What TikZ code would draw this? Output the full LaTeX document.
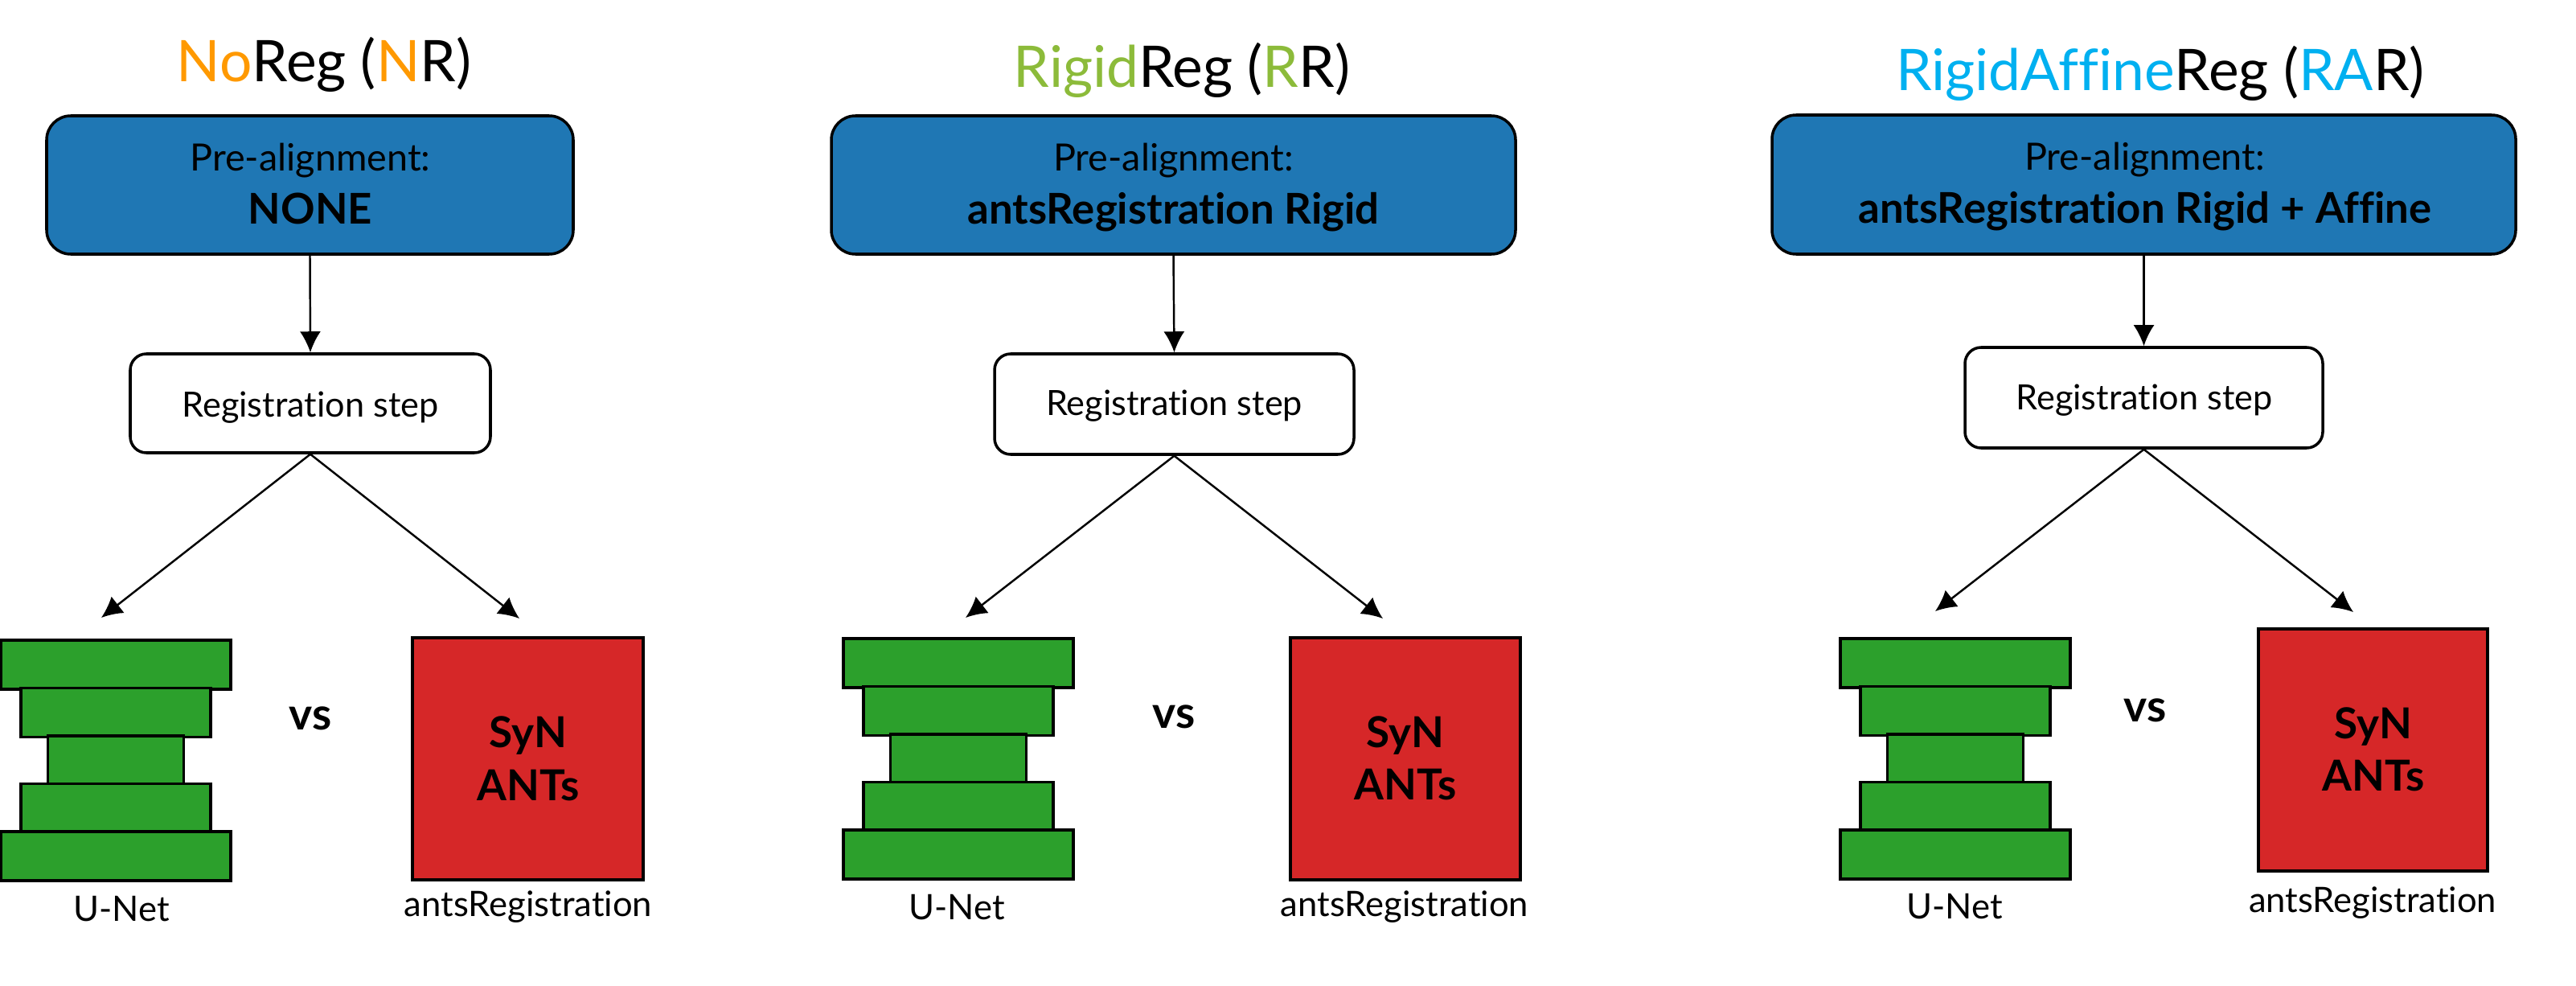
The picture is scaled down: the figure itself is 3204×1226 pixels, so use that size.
\documentclass[tikz,border=0pt]{standalone}
\usepackage{fontspec}
\setmainfont{Lato}[Ligatures=NoCommon]
\usetikzlibrary{arrows.meta}
\definecolor{preblue}{HTML}{1F77B4}
\definecolor{unetgreen}{HTML}{2CA02C}
\definecolor{synred}{HTML}{D62728}
\definecolor{nrorange}{HTML}{FF9900}
\definecolor{rrgreen}{HTML}{8CBB3A}
\definecolor{rarcyan}{HTML}{00B0F0}
\tikzset{
  prebox/.style={draw=black, line width=1pt, fill=preblue, rounded corners=3mm, inner sep=0pt},
  regbox/.style={draw=black, line width=1pt, fill=white, rounded corners=2mm, inner sep=0pt},
  layer/.style={draw=black, line width=1pt, fill=unetgreen, inner sep=0pt, minimum height=6.1mm, anchor=north},
  synbox/.style={draw=black, line width=1pt, fill=synred, inner sep=0pt},
  conn/.style={line width=0.7pt, -{Latex[length=7.4pt,width=7.4pt]}},
  txt/.style={inner sep=0pt, anchor=base},
  titlefont/.style={font=\fontsize{20.3}{24}\selectfont},
  prefont/.style={font=\fontsize{13.3}{16}\selectfont},
  prebold/.style={font=\bfseries\fontsize{15}{18}\selectfont},
  regfont/.style={font=\fontsize{12.3}{15}\selectfont},
  synfont/.style={font=\bfseries\fontsize{15.1}{18}\selectfont},
  labfont/.style={font=\fontsize{12.4}{15}\selectfont},
  antsfont/.style={font=\fontsize{12.4}{15}\selectfont},
  vsfont/.style={font=\bfseries\fontsize{15.7}{18}\selectfont},
}
\newcommand\unetstack[3]{%
  \node[layer, minimum width=28.6mm] (#1a) at (#2,#3) {};
  \node[layer, minimum width=23.6mm] (#1b) at (#2,#3+59.5) {};
  \node[layer, minimum width=16.9mm] (#1c) at (#2,#3+119) {};
  \node[layer, minimum width=23.6mm] (#1d) at (#2,#3+178.5) {};
  \node[layer, minimum width=28.6mm] (#1e) at (#2,#3+238) {};
}
\begin{document}
\begin{tikzpicture}[x=0.1mm,y=-0.1mm]
\useasboundingbox (0,0) rectangle (3204,1226);

% ---------- Panel 1: NoReg ----------
\node[txt, titlefont] (t1) at (403,102) {\textcolor{nrorange}{No}Reg (\textcolor{nrorange}{N}R)};
\node[prebox, minimum width=65.5mm, minimum height=17.2mm] (pre1) at (385.5,230) {};
\node[txt, prefont] (pre1a) at (386,213) {Pre-alignment:};
\node[txt, prebold] (pre1b) at (386,279) {NONE};
\node[regbox, minimum width=44.8mm, minimum height=12.3mm] (reg1) at (386,501.5) {};
\node[txt, regfont] (reg1t) at (386,518) {Registration step};
\coordinate (tip1l) at (126,768);
\coordinate (tip1r) at (646,769);
\draw[conn] (pre1.south) -- (reg1.north);
\draw[conn] (reg1.south) -- (tip1l);
\draw[conn] (reg1.south) -- (tip1r);
\unetstack{u1}{144}{794}
\node[txt, vsfont] (vs1) at (386,907) {vs};
\node[synbox, minimum width=28.7mm, minimum height=30.1mm] (syn1) at (656.5,943.5) {};
\node[txt, synfont] (syn1a) at (657,929) {SyN};
\node[txt, synfont] (syn1b) at (657,995) {ANTs};
\node[txt, labfont] (lab1u) at (151,1145) {U-Net};
\node[txt, antsfont] (lab1a) at (657,1139) {antsRegistration};

% ---------- Panel 2: RigidReg ----------
\node[txt, titlefont] (t2) at (1470,109) {\textcolor{rrgreen}{Rigid}Reg (\textcolor{rrgreen}{R}R)};
\node[prebox, minimum width=85.1mm, minimum height=17.2mm] (pre2) at (1459.5,230) {};
\node[txt, prefont] (pre2a) at (1459.5,213) {Pre-alignment:};
\node[txt, prebold] (pre2b) at (1459.5,279) {antsRegistration Rigid};
\node[regbox, minimum width=44.7mm, minimum height=12.5mm] (reg2) at (1460.5,502.5) {};
\node[txt, regfont] (reg2t) at (1460.5,516) {Registration step};
\coordinate (tip2l) at (1201,768);
\coordinate (tip2r) at (1720,769);
\draw[conn] (pre2.south) -- (reg2.north);
\draw[conn] (reg2.south) -- (tip2l);
\draw[conn] (reg2.south) -- (tip2r);
\unetstack{u2}{1192}{792}
\node[txt, vsfont] (vs2) at (1460,905) {vs};
\node[synbox, minimum width=28.6mm, minimum height=30.1mm] (syn2) at (1748,943.5) {};
\node[txt, synfont] (syn2a) at (1748,929) {SyN};
\node[txt, synfont] (syn2b) at (1748,994) {ANTs};
\node[txt, labfont] (lab2u) at (1190,1143) {U-Net};
\node[txt, antsfont] (lab2a) at (1747,1139) {antsRegistration};

% ---------- Panel 3: RigidAffineReg ----------
\node[txt, titlefont] (t3) at (2687,113) {\textcolor{rarcyan}{RigidAffine}Reg (\textcolor{rarcyan}{RA}R)};
\node[prebox, minimum width=92.5mm, minimum height=17.3mm] (pre3) at (2666.5,229.5) {};
\node[txt, prefont] (pre3a) at (2667.5,212) {Pre-alignment:};
\node[txt, prebold] (pre3b) at (2668,277) {antsRegistration Rigid + Affine};
\node[regbox, minimum width=44.5mm, minimum height=12.5mm] (reg3) at (2666.5,494.5) {};
\node[txt, regfont] (reg3t) at (2667,509) {Registration step};
\coordinate (tip3l) at (2407,760);
\coordinate (tip3r) at (2927,761);
\draw[conn] (pre3.south) -- (reg3.north);
\draw[conn] (reg3.south) -- (tip3l);
\draw[conn] (reg3.south) -- (tip3r);
\unetstack{u3}{2432}{792}
\node[txt, vsfont] (vs3) at (2668,897) {vs};
\node[synbox, minimum width=28.5mm, minimum height=30.1mm] (syn3) at (2951.5,932.5) {};
\node[txt, synfont] (syn3a) at (2952,918) {SyN};
\node[txt, synfont] (syn3b) at (2952,983) {ANTs};
\node[txt, labfont] (lab3u) at (2431,1142) {U-Net};
\node[txt, antsfont] (lab3a) at (2951,1134) {antsRegistration};
\end{tikzpicture}
\end{document}
